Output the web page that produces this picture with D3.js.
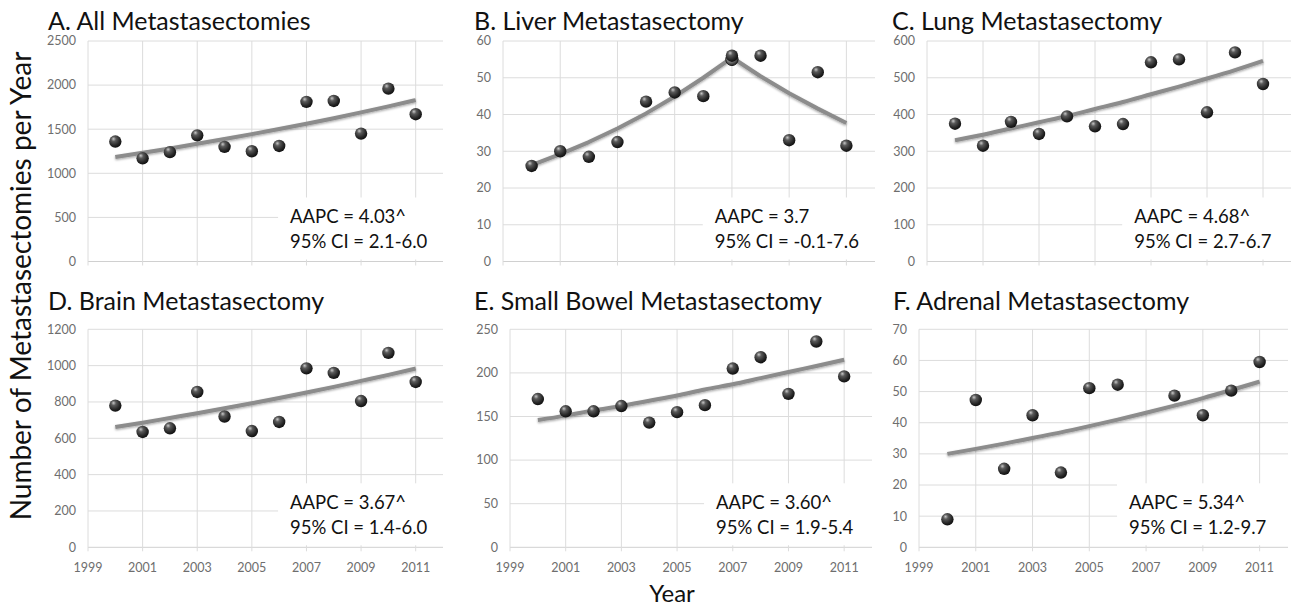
<!DOCTYPE html>
<html>
<head>
<meta charset="utf-8">
<script src="https://cdn.jsdelivr.net/npm/d3@7"></script>
<style>
  html, body { margin: 0; padding: 0; background: #fff; }
  svg { display: block; }
</style>
</head>
<body>
<svg id="chart" width="1291" height="608"></svg>
<script>
// Years of observation and the x-axis tick labels
const years = [2000, 2001, 2002, 2003, 2004, 2005, 2006, 2007, 2008, 2009, 2010, 2011];
const yearTicks = [1999, 2001, 2003, 2005, 2007, 2009, 2011];

// Panel titles
const titles = [
  "A. All Metastasectomies",
  "B. Liver Metastasectomy",
  "C. Lung Metastasectomy",
  "D. Brain Metastasectomy",
  "E. Small Bowel Metastasectomy",
  "F. Adrenal Metastasectomy"
];

// Observed yearly counts
const allValues     = [1360, 1170, 1240, 1430, 1300, 1250, 1310, 1810, 1820, 1450, 1960, 1670];
const liverValues   = [26, 30, 28.5, 32.5, 43.5, 46, 45, 56, 56, 33, 51.5, 31.5];
const lungValues    = [375, 315, 380, 347, 395, 368, 374, 542, 550, 406, 569, 483];
const brainValues   = [780, 635, 655, 855, 720, 640, 690, 985, 960, 805, 1070, 910];
const bowelValues   = [170, 156, 156, 162, 143, 155, 163, 205, 218, 176, 236, 196];
const adrenalValues = [9, 47.3, 25.2, 42.4, 24, 51.1, 52.2, null, 48.7, 42.4, 50.3, 59.5];

// Second liver observation plotted at 2007
const liverExtraYears  = [2007];
const liverExtraValues = [55];

// Modelled trend (joinpoint fit) per year
const allTrend     = [1185, 1233, 1282, 1334, 1388, 1444, 1502, 1562, 1625, 1691, 1759, 1830];
const liverTrend   = [26.2, 29.2, 32.5, 36.2, 40.3, 44.9, 50.0, 55.5, 50.4, 45.8, 41.6, 37.7];
const lungTrend    = [330, 345, 362, 379, 396, 415, 434, 455, 476, 498, 521, 546];
const brainTrend   = [662, 686, 712, 738, 765, 793, 822, 852, 883, 916, 949, 984];
const bowelTrend   = [146, 151, 157, 162, 168, 174, 181, 187, 194, 201, 208, 215];
const adrenalTrend = [30, 31.6, 33.3, 35.1, 36.9, 38.9, 41.0, 43.2, 45.5, 47.9, 50.5, 53.2];

// Y-axis maxima and tick steps
const yMax   = [2500, 60, 600, 1200, 250, 70];
const yStep  = [500, 10, 100, 200, 50, 10];

// Annotation text
const aapcLabels = ["AAPC = 4.03^", "AAPC = 3.7", "AAPC = 4.68^", "AAPC = 3.67^", "AAPC = 3.60^", "AAPC = 5.34^"];
const ciLabels   = ["95% CI = 2.1-6.0", "95% CI = -0.1-7.6", "95% CI = 2.7-6.7", "95% CI = 1.4-6.0", "95% CI = 1.9-5.4", "95% CI = 1.2-9.7"];

const yAxisTitle = "Number of Metastasectomies per Year";
const xAxisTitle = "Year";

const seriesValues = [allValues, liverValues, lungValues, brainValues, bowelValues, adrenalValues];
const seriesTrend  = [allTrend, liverTrend, lungTrend, brainTrend, bowelTrend, adrenalTrend];

// Plot-area frames for the 3x2 grid
const frames = [
  { left: 88,  right: 443,  top: 41,    bottom: 261.5, titleX: 48,  titleY: 29.5, xLabels: false },
  { left: 503, right: 875,  top: 41,    bottom: 261.5, titleX: 474, titleY: 29.5, xLabels: false },
  { left: 927, right: 1291, top: 41,    bottom: 261.5, titleX: 892, titleY: 29.5, xLabels: false },
  { left: 88,  right: 443,  top: 329.3, bottom: 547.3, titleX: 48,  titleY: 310,  xLabels: true },
  { left: 510, right: 872,  top: 329.3, bottom: 547.3, titleX: 474, titleY: 310,  xLabels: true },
  { left: 919, right: 1288, top: 329.3, bottom: 547.3, titleX: 893, titleY: 310,  xLabels: true }
];

const FONT = "Lato, 'Open Sans', sans-serif";
const svg = d3.select("#chart");

// Sphere shading for the markers and a soft shadow for the trend curve
const defs = svg.append("defs");
const grad = defs.append("radialGradient")
  .attr("id", "sphere").attr("cx", "40%").attr("cy", "35%").attr("r", "65%")
  .attr("fx", "35%").attr("fy", "28%");
grad.append("stop").attr("offset", "0%").attr("stop-color", "#c8c8c8");
grad.append("stop").attr("offset", "30%").attr("stop-color", "#5a5a5a");
grad.append("stop").attr("offset", "75%").attr("stop-color", "#262626");
grad.append("stop").attr("offset", "100%").attr("stop-color", "#101010");

const gradLight = defs.append("radialGradient")
  .attr("id", "sphereLight").attr("cx", "40%").attr("cy", "35%").attr("r", "65%")
  .attr("fx", "35%").attr("fy", "28%");
gradLight.append("stop").attr("offset", "0%").attr("stop-color", "#e0e0e0");
gradLight.append("stop").attr("offset", "50%").attr("stop-color", "#8a8a8a");
gradLight.append("stop").attr("offset", "100%").attr("stop-color", "#2a2a2a");

const shadow = defs.append("filter").attr("id", "lineShadow")
  .attr("x", "-10%").attr("y", "-30%").attr("width", "120%").attr("height", "160%");
shadow.append("feDropShadow").attr("dx", 0).attr("dy", 1.2).attr("stdDeviation", 1)
  .attr("flood-color", "#000").attr("flood-opacity", 0.35);

frames.forEach((f, i) => {
  const g = svg.append("g");
  const x = d3.scaleLinear().domain([1999, 2012]).range([f.left, f.right]);
  const y = d3.scaleLinear().domain([0, yMax[i]]).range([f.bottom, f.top]);
  const yTicks = d3.range(0, yMax[i] + yStep[i] / 2, yStep[i]);

  // Horizontal gridlines
  g.append("g").selectAll("line").data(yTicks).join("line")
    .attr("x1", f.left).attr("x2", f.right)
    .attr("y1", d => y(d)).attr("y2", d => y(d))
    .attr("stroke", d => d === 0 ? "#d0d0d0" : "#dcdcdc").attr("stroke-width", 1);

  // Vertical gridlines with small outward ticks
  g.append("g").selectAll("line").data(yearTicks).join("line")
    .attr("x1", d => x(d)).attr("x2", d => x(d))
    .attr("y1", f.top).attr("y2", f.bottom + 4)
    .attr("stroke", "#dcdcdc").attr("stroke-width", 1);

  // Y tick labels
  g.append("g").selectAll("text").data(yTicks).join("text")
    .attr("x", f.left - 12).attr("y", d => y(d)).attr("dy", "0.35em")
    .attr("text-anchor", "end")
    .attr("font-family", FONT).attr("font-size", 12.5).attr("fill", "#6e6e6e")
    .text(d => d);

  // X tick labels on the bottom row
  if (f.xLabels) {
    g.append("g").selectAll("text").data(yearTicks).join("text")
      .attr("x", d => x(d)).attr("y", f.bottom + 20).attr("dy", "0.35em")
      .attr("text-anchor", "middle")
      .attr("font-family", FONT).attr("font-size", 12.5).attr("fill", "#6e6e6e")
      .text(d => d);
  }

  // White annotation box that masks the grid behind the statistics
  const tx = x(2006.4);
  g.append("rect")
    .attr("x", tx - 12).attr("y", f.bottom - 64)
    .attr("width", f.right - (tx - 12) + 0.5).attr("height", 62)
    .attr("fill", "#fff");

  g.append("text")
    .attr("x", tx).attr("y", f.bottom - 38.5)
    .attr("font-family", FONT).attr("font-size", 18.5).attr("fill", "#111")
    .text(aapcLabels[i]);
  g.append("text")
    .attr("x", tx).attr("y", f.bottom - 13.5)
    .attr("font-family", FONT).attr("font-size", 18.5).attr("fill", "#111")
    .text(ciLabels[i]);

  // Trend curve
  const trendPts = years.map((yr, k) => ({ yr, v: seriesTrend[i][k] }));
  const line = d3.line()
    .x(d => x(d.yr)).y(d => y(d.v))
    .curve(i === 1 ? d3.curveLinear : d3.curveMonotoneX);
  g.append("path").datum(trendPts)
    .attr("d", line)
    .attr("fill", "none").attr("stroke", "#8c8c8c").attr("stroke-width", 4)
    .attr("stroke-linejoin", "round")
    .attr("filter", "url(#lineShadow)");

  // Observed points
  const pts = years.map((yr, k) => ({ yr, v: seriesValues[i][k] })).filter(d => d.v !== null);
  if (i === 1) {
    liverExtraYears.forEach((yr, k) => {
      g.append("circle")
        .attr("cx", x(yr)).attr("cy", y(liverExtraValues[k])).attr("r", 6.2)
        .attr("fill", "url(#sphereLight)").attr("stroke", "#1a1a1a").attr("stroke-width", 1);
    });
  }
  g.append("g").selectAll("circle").data(pts).join("circle")
    .attr("cx", d => x(d.yr)).attr("cy", d => y(d.v)).attr("r", 6.2)
    .attr("fill", "url(#sphere)");

  // Panel title
  svg.append("text")
    .attr("x", f.titleX).attr("y", f.titleY)
    .attr("font-family", FONT).attr("font-size", 25).attr("fill", "#111")
    .text(titles[i]);
});

// Shared axis titles
svg.append("text")
  .attr("transform", "translate(31,286) rotate(-90)")
  .attr("text-anchor", "middle")
  .attr("font-family", FONT).attr("font-size", 28).attr("fill", "#111")
  .text(yAxisTitle);

svg.append("text")
  .attr("x", 672).attr("y", 601.5)
  .attr("text-anchor", "middle")
  .attr("font-family", FONT).attr("font-size", 24).attr("fill", "#111")
  .text(xAxisTitle);
</script>
</body>
</html>
